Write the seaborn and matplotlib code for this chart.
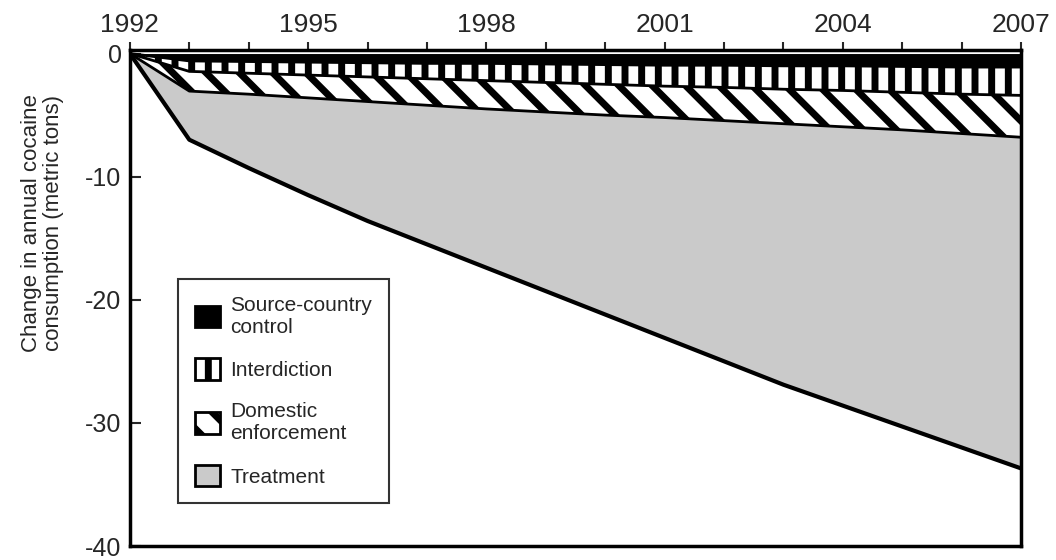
import numpy as np
import pandas as pd
import matplotlib
matplotlib.use("Agg")
import matplotlib.pyplot as plt
import seaborn as sns
from matplotlib.patches import Patch

years = list(range(1992, 2008))
source_country = [0, -0.6, -0.65, -0.7, -0.75, -0.8, -0.8, -0.85, -0.9, -0.95, -0.95, -1.0, -1.0, -1.05, -1.1, -1.1]
interdiction = [0, -0.85, -0.95, -1.05, -1.15, -1.25, -1.4, -1.5, -1.6, -1.7, -1.8, -1.9, -2.0, -2.1, -2.2, -2.3]
domestic = [0, -1.6, -1.7, -1.85, -2.0, -2.15, -2.3, -2.4, -2.5, -2.55, -2.7, -2.8, -2.95, -3.05, -3.2, -3.4]
treatment = [0, -3.95, -6.0, -7.9, -9.7, -11.3, -12.9, -14.55, -16.2, -17.9, -19.55, -21.2, -22.65, -24.1, -25.5, -26.9]
labels = ["Source-country\ncontrol", "Interdiction", "Domestic\nenforcement", "Treatment"]
year_labels = [1992, 1995, 1998, 2001, 2004, 2007]
y_ticks = [0, -10, -20, -30, -40]

sns.set_style("ticks")
plt.rcParams['font.family'] = ['Liberation Sans', 'DejaVu Sans']
plt.rcParams['hatch.linewidth'] = 5.0

df = pd.DataFrame({"year": years, "s": source_country, "i": interdiction,
                   "d": domestic, "t": treatment})
c1 = df["s"].values
c2 = c1 + df["i"].values
c3 = c2 + df["d"].values
c4 = c3 + df["t"].values

fig = plt.figure(figsize=(10.56, 5.6), dpi=100)
ax = fig.add_axes([0.123, 0.025, 0.844, 0.886])

x = df["year"].values
styles = [
    dict(facecolor="black", hatch=None),
    dict(facecolor="white", hatch="|"),
    dict(facecolor="white", hatch="\\"),
    dict(facecolor="#cacaca", hatch=None),
]
bounds = [np.zeros_like(c1), c1, c2, c3, c4]
handles = []
for k, st in enumerate(styles):
    ax.fill_between(x, bounds[k], bounds[k + 1], facecolor=st["facecolor"],
                    edgecolor="black", hatch=st["hatch"], linewidth=0, zorder=1)
    handles.append(Patch(facecolor=st["facecolor"], edgecolor="black",
                         hatch=st["hatch"], linewidth=2, label=labels[k]))

for k, b in enumerate([c1, c2, c3, c4]):
    sns.lineplot(x=x, y=b, ax=ax, color="black", lw=3.0 if k == 3 else 2.0, zorder=3)

ax.set_xlim(1992, 2007)
ax.set_ylim(-40, 0.3)
ax.xaxis.tick_top()
ax.set_xticks(years)
ax.set_xticklabels([str(y) if y in year_labels else "" for y in years], fontsize=19)
ax.tick_params(axis="x", direction="out", length=6, width=1.5, pad=3)
ax.set_yticks(y_ticks)
ax.set_yticklabels([str(v) for v in y_ticks], fontsize=18)
ax.tick_params(axis="y", direction="in", length=8, width=1.5, pad=6)
for sp in ax.spines.values():
    sp.set_visible(True)
    sp.set_linewidth(2.5)
    sp.set_color("black")
ax.set_ylabel("Change in annual cocaine\nconsumption (metric tons)", fontsize=16,
              linespacing=1.05)
ax.yaxis.set_label_coords(-0.074, 0.65)

leg = ax.legend(handles=handles, loc="lower left", bbox_to_anchor=(0.054, 0.086),
                borderaxespad=0, fontsize=15, frameon=True, fancybox=False,
                edgecolor="black", handlelength=1.2, handleheight=1.2,
                handletextpad=0.5, labelspacing=1.05, borderpad=0.8)
leg.get_frame().set_linewidth(1.5)
leg.set_zorder(5)

fig.savefig("out.png", dpi=100)
